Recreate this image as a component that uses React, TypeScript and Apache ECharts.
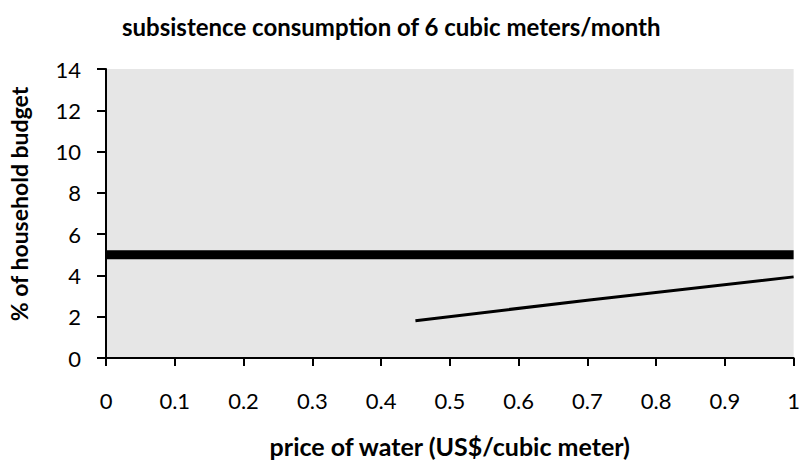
import React, { useEffect, useRef } from "react";
import * as echarts from "echarts";

const titleText = "subsistence consumption of 6 cubic meters/month";
const xAxisTitle = "price of water (US$/cubic meter)";
const yAxisTitle = "% of household budget";

const thresholdPrice = [0, 1];
const thresholdShare = [5, 5];

const budgetPrice = [0.45, 0.7, 1];
const budgetShare = [1.81, 2.8, 3.93];

const FONT = "Lato";

export default function App() {
  const ref = useRef<HTMLDivElement>(null);
  useEffect(() => {
    if (!ref.current) return;
    const chart = echarts.init(ref.current, undefined, { renderer: "svg" });
    chart.setOption({
      animation: false,
      backgroundColor: "#ffffff",
      title: {
        text: titleText,
        left: 117,
        top: 9,
        textStyle: { fontFamily: FONT, fontSize: 24, fontWeight: "bold", color: "#000" },
      },
      graphic: [
        {
          type: "text",
          x: 19,
          y: 204,
          rotation: Math.PI / 2,
          style: {
            text: yAxisTitle,
            fontFamily: FONT,
            fontSize: 23,
            fontWeight: "bold",
            fill: "#000",
            align: "center",
            verticalAlign: "middle",
          },
        },
      ],
      grid: {
        left: 106,
        right: 6,
        top: 69,
        bottom: 108,
        show: true,
        backgroundColor: "#e6e6e6",
        borderWidth: 0,
      },
      xAxis: {
        type: "value",
        min: 0,
        max: 1,
        interval: 0.1,
        name: xAxisTitle,
        nameLocation: "middle",
        nameGap: 75,
        nameTextStyle: { fontFamily: FONT, fontSize: 25, fontWeight: "bold", color: "#000" },
        axisLine: { show: true, lineStyle: { color: "#000", width: 2 } },
        axisTick: { show: true, length: 8, lineStyle: { color: "#000", width: 2 } },
        axisLabel: {
          fontFamily: FONT,
          fontSize: 22,
          color: "#000",
          margin: 31,
          formatter: (v: number) => String(Math.round(v * 10) / 10),
        },
        splitLine: { show: false },
      },
      yAxis: {
        type: "value",
        min: 0,
        max: 14,
        interval: 2,
        axisLine: { show: true, lineStyle: { color: "#000", width: 2 } },
        axisTick: { show: true, length: 9, lineStyle: { color: "#000", width: 2 } },
        axisLabel: { fontFamily: FONT, fontSize: 22, color: "#000", margin: 25 },
        splitLine: { show: false },
      },
      series: [
        {
          type: "line",
          data: thresholdPrice.map((x, i) => [x, thresholdShare[i]]),
          showSymbol: false,
          symbol: "none",
          lineStyle: { color: "#000", width: 9 },
        },
        {
          type: "line",
          data: budgetPrice.map((x, i) => [x, budgetShare[i]]),
          showSymbol: false,
          symbol: "none",
          lineStyle: { color: "#000", width: 3 },
        },
      ],
    });
    return () => chart.dispose();
  }, []);
  return <div ref={ref} style={{ width: 803, height: 466, position: "absolute", left: 0, top: 0 }} />;
}
